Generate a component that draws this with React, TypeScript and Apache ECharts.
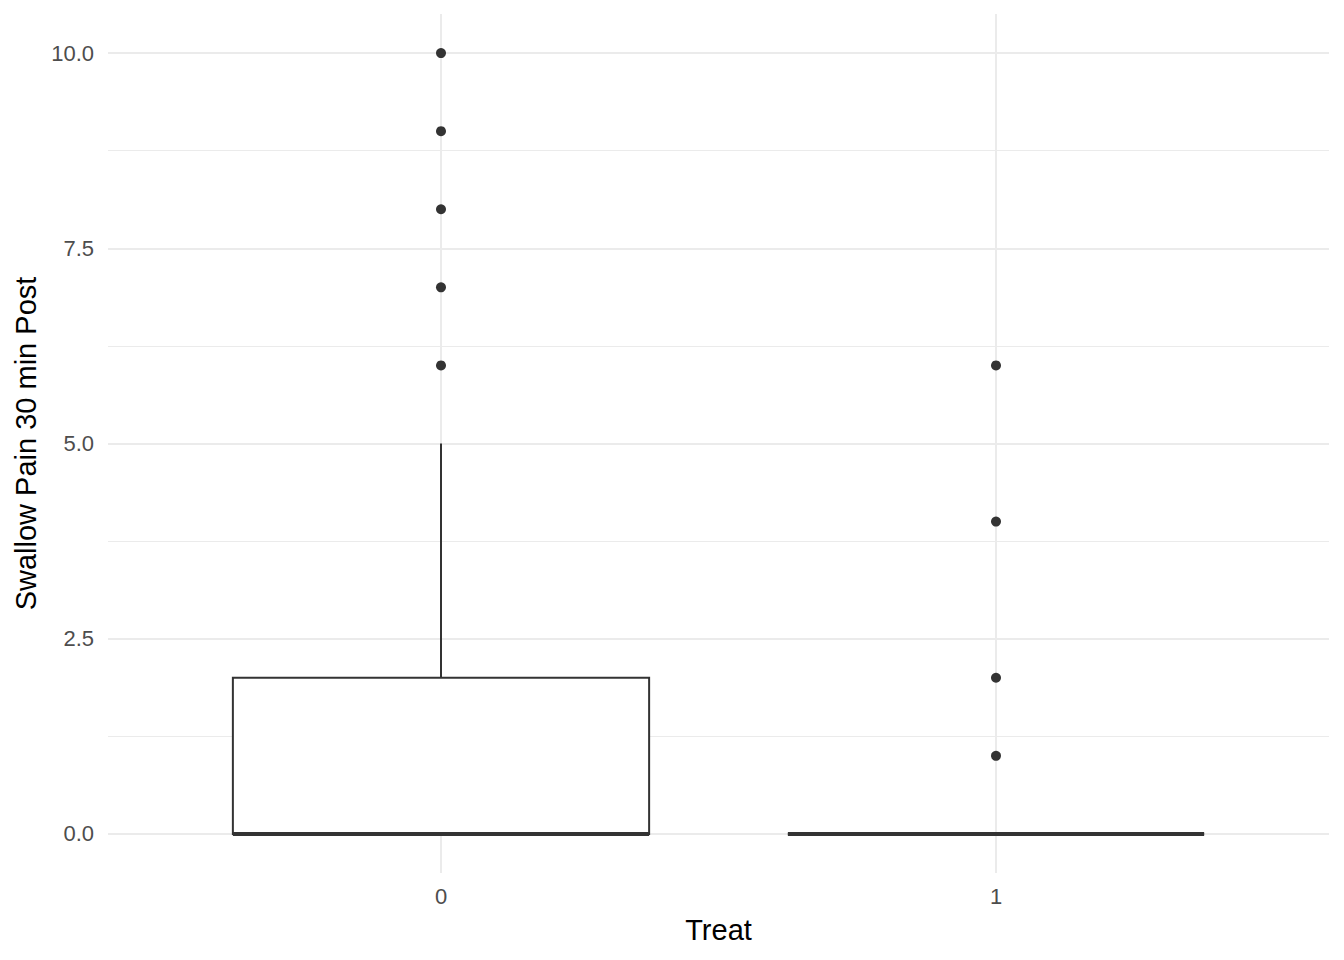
import { useEffect, useRef } from "react";
import * as echarts from "echarts";

// groups on the x axis
const categories = ["0", "1"];
// box stats per group: [lower whisker, q1, median, q3, upper whisker]
const boxStats = [
  [0, 0, 0, 2, 5],
  [0, 0, 0, 0, 0],
];
// outliers: [group index, value]
const outliers = [
  [0, 6],
  [0, 7],
  [0, 8],
  [0, 9],
  [0, 10],
  [1, 1],
  [1, 2],
  [1, 4],
  [1, 6],
];
const majorBreaks = [0, 2.5, 5, 7.5, 10];
const minorBreaks = [1.25, 3.75, 6.25, 8.75];

const FONT = "'Liberation Sans', Arial, sans-serif";
const GRID = "#ebebeb";
const INK = "#333333";
const BOX_HALF = 0.375;

export default function App() {
  const ref = useRef<HTMLDivElement | null>(null);

  useEffect(() => {
    if (!ref.current) return;
    const chart = echarts.init(ref.current, null, { renderer: "svg" });

    const gridLines = [
      ...minorBreaks.map((v) => ({ yAxis: v, lineStyle: { width: 1 } })),
      ...majorBreaks.map((v) => ({ yAxis: v, lineStyle: { width: 2 } })),
      ...categories.map((_, i) => ({ xAxis: i, lineStyle: { width: 2 } })),
    ];

    chart.setOption({
      animation: false,
      textStyle: { fontFamily: FONT },
      grid: { left: 108, right: 15, top: 14, bottom: 87 },
      xAxis: {
        type: "value",
        min: -0.6,
        max: 1.6,
        name: "Treat",
        nameLocation: "middle",
        nameGap: 42,
        nameTextStyle: { color: "#000", fontSize: 29, fontFamily: FONT },
        axisLine: { show: false },
        axisTick: { show: false },
        splitLine: { show: false },
        axisLabel: {
          customValues: categories.map((_, i) => i),
          formatter: (v: number) => categories[Math.round(v)] ?? "",
          color: "#4d4d4d",
          fontSize: 22,
          margin: 12,
          fontFamily: FONT,
        },
      },
      yAxis: {
        type: "value",
        min: -0.5,
        max: 10.5,
        name: "Swallow Pain 30 min Post",
        nameLocation: "middle",
        nameGap: 64,
        nameRotate: 90,
        nameTextStyle: { color: "#000", fontSize: 29, fontFamily: FONT },
        axisLine: { show: false },
        axisTick: { show: false },
        splitLine: { show: false },
        axisLabel: {
          customValues: majorBreaks,
          formatter: (v: number) => v.toFixed(1),
          color: "#4d4d4d",
          fontSize: 22,
          margin: 14,
          fontFamily: FONT,
        },
      },
      series: [
        {
          type: "line",
          z: 0,
          data: [],
          silent: true,
          markLine: {
            z: 0,
            silent: true,
            symbol: ["none", "none"],
            label: { show: false },
            lineStyle: { color: GRID, type: "solid" },
            data: gridLines,
          },
        },
        {
          type: "custom",
          z: 10,
          data: boxStats.map((s, i) => [i, ...s]),
          encode: { x: 0, y: [1, 2, 3, 4, 5] },
          renderItem: (_params: any, api: any) => {
            const x = api.value(0);
            const low = api.value(1);
            const q1 = api.value(2);
            const med = api.value(3);
            const q3 = api.value(4);
            const high = api.value(5);
            const c = api.coord([x, med]);
            const pLow = api.coord([x, low]);
            const pHigh = api.coord([x, high]);
            const tl = api.coord([x - BOX_HALF, q3]);
            const br = api.coord([x + BOX_HALF, q1]);
            const line = { stroke: INK, lineWidth: 2 };
            return {
              type: "group",
              children: [
                {
                  type: "line",
                  shape: { x1: c[0], y1: tl[1], x2: c[0], y2: pHigh[1] },
                  style: line,
                },
                {
                  type: "line",
                  shape: { x1: c[0], y1: br[1], x2: c[0], y2: pLow[1] },
                  style: line,
                },
                {
                  type: "rect",
                  shape: { x: tl[0], y: tl[1], width: br[0] - tl[0], height: br[1] - tl[1] },
                  style: { fill: "#fff", stroke: INK, lineWidth: 2 },
                },
                {
                  type: "line",
                  shape: { x1: tl[0], y1: c[1], x2: br[0], y2: c[1] },
                  style: { stroke: INK, lineWidth: 4, lineCap: "butt" },
                },
              ],
            };
          },
        },
        {
          type: "scatter",
          z: 11,
          data: outliers,
          symbol: "circle",
          symbolSize: 10,
          itemStyle: { color: INK, opacity: 1 },
          silent: true,
        },
      ],
    });

    return () => {
      chart.dispose();
    };
  }, []);

  return (
    <div
      ref={ref}
      style={{ position: "fixed", left: 0, top: 0, width: 1344, height: 960, background: "#fff" }}
    />
  );
}
